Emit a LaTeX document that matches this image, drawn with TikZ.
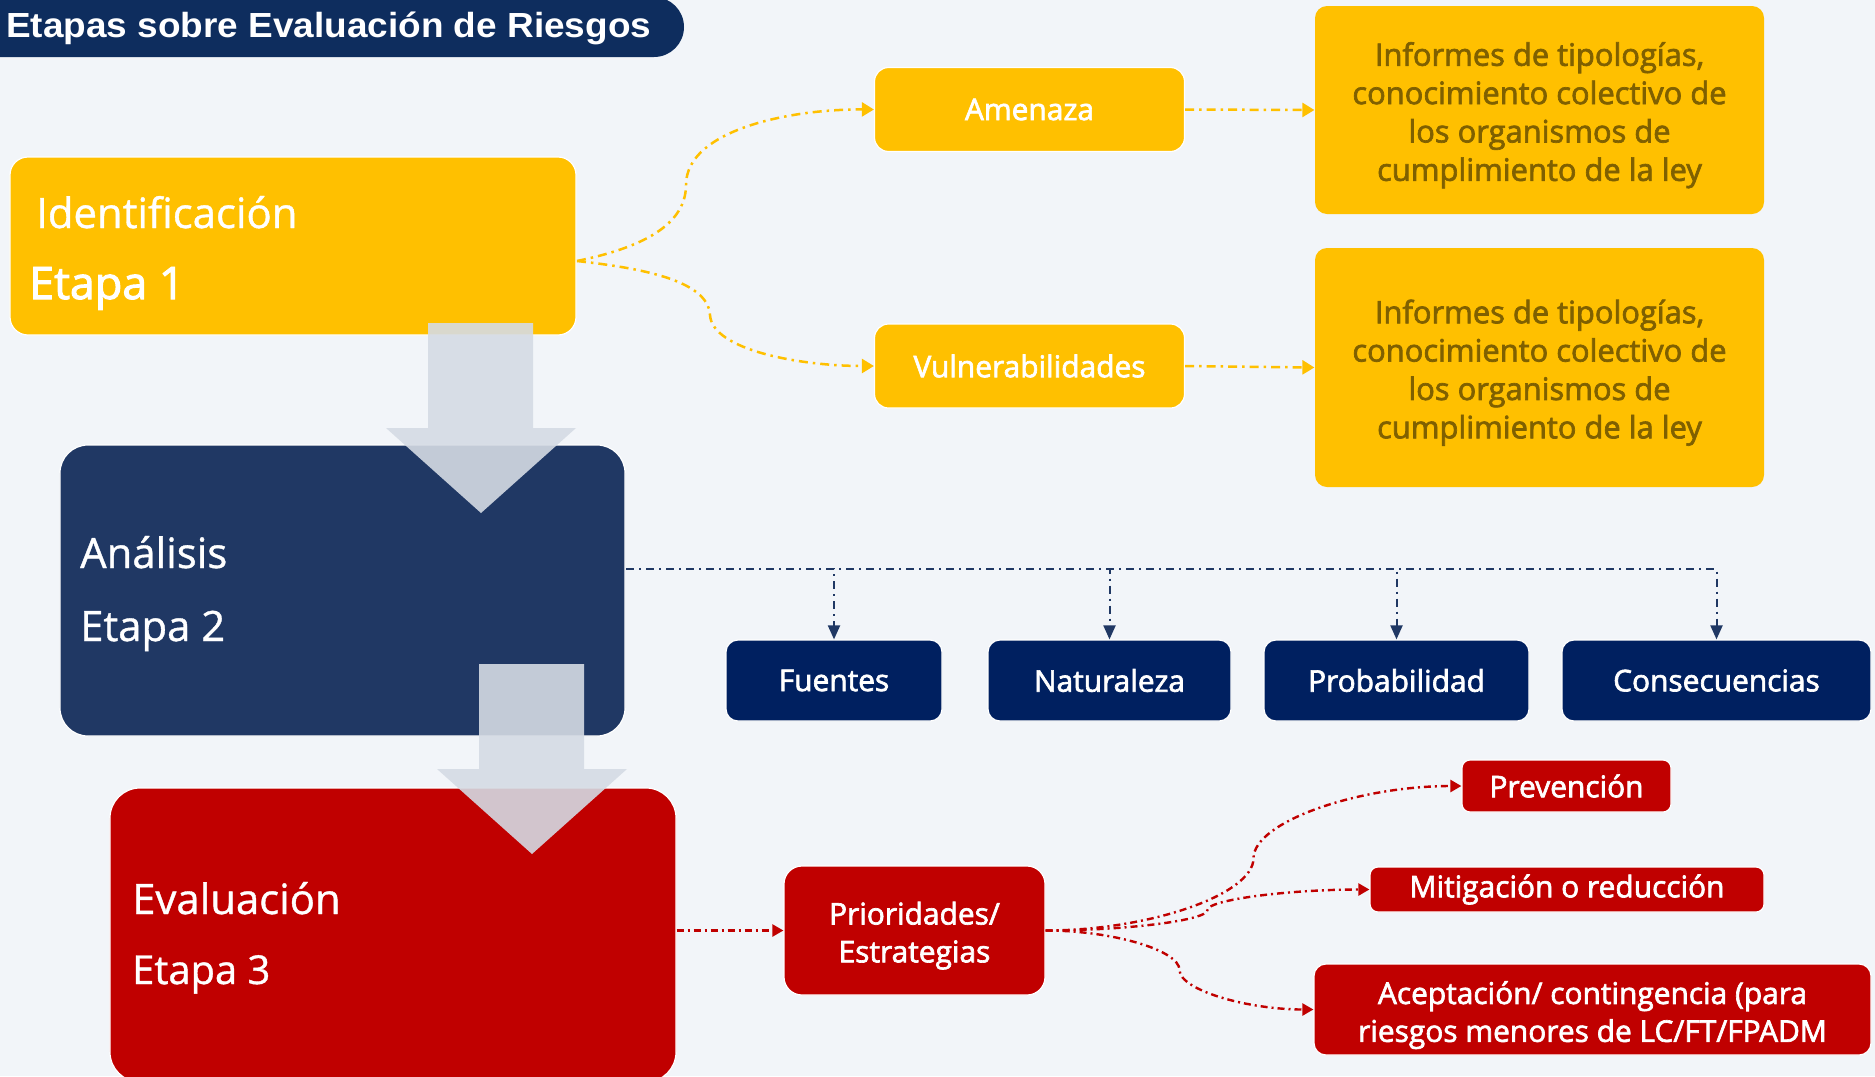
\documentclass[tikz,border=0pt]{standalone}
\usepackage{fontspec}
\setmainfont{Open Sans}
\newfontfamily\titlefont{Liberation Sans}[FakeStretch=1.06]
\newfontfamily\semib{Open Sans}[FakeBold=2.2]
\newfontfamily\medf{Open Sans}[FakeBold=0.9]
\usetikzlibrary{arrows.meta,calc}
\definecolor{bgc}{HTML}{F2F5F9}
\definecolor{yel}{HTML}{FFC000}
\definecolor{olive}{HTML}{7F6000}
\definecolor{anav}{HTML}{203864}
\definecolor{dnav}{HTML}{002060}
\definecolor{tnav}{HTML}{0E2D5E}
\definecolor{rred}{HTML}{C00000}
\definecolor{arrc}{HTML}{D5DBE4}
\tikzset{
  basebox/.style={draw=white, line width=1.2bp, inner sep=0pt, text=white, align=center},
  lab/.style={font=\semib\fontsize{30}{38}\selectfont},
  stagetxt/.style={text=white, inner sep=0pt, anchor=base west, font=\medf\fontsize{42}{50}\selectfont},
  ylink/.style={yel, line width=2.5bp, dash pattern=on 9bp off 5bp on 2.5bp off 5bp, -{Triangle[length=12bp,width=14bp]}},
  nlink/.style={anav, line width=2bp, dash pattern=on 8bp off 5bp on 2bp off 5bp, -{Triangle[length=14bp,width=12bp]}},
  rlink/.style={rred, line width=2.4bp, dash pattern=on 7bp off 4bp on 2bp off 4bp, -{Triangle[length=11bp,width=12bp]}},
  pcurve/.style={to path={let \p1=(\tikztostart), \p2=(\tikztotarget) in
     .. controls ({(3*\x1+\x2)/4},\y1) and ({(\x1+\x2)/2},{(3*\y1+\y2)/4}) .. ({(\x1+\x2)/2},{(\y1+\y2)/2})
     .. controls ({(\x1+\x2)/2},{(\y1+3*\y2)/4}) and ({(\x1+3*\x2)/4},\y2) .. (\tikztotarget)}},
  bigarrow/.style={fill=arrc, fill opacity=0.9}
}
\newcommand{\dn}[1]{\rule{0pt}{#1}}
\begin{document}
\begin{tikzpicture}[x=1bp,y=-1bp]
\useasboundingbox (0,0) rectangle (1875,1076);
\clip (0,0) rectangle (1875,1076);
\fill[bgc] (0,0) rectangle (1875,1076);

% title bar
\fill[tnav, rounded corners=30bp] (-40,-3) rectangle (684,57);
\node[text=white, inner sep=0pt, anchor=base west, font=\titlefont\bfseries\fontsize{35}{40}\selectfont] (title) at (6,37) {Etapas sobre Evaluación de Riesgos};

% stage boxes
\node[basebox, fill=yel, rounded corners=18bp, minimum width=566bp, minimum height=178bp] (Id) at (293,246) {};
\node[basebox, fill=anav, rounded corners=28bp, minimum width=565bp, minimum height=291bp] (Ana) at (342.5,590.5) {};
\node[basebox, fill=rred, rounded corners=30bp, minimum width=566bp, minimum height=294bp] (Eval) at (393,935) {};

\node[stagetxt] (IdT) at (36,228) {Identificación};
\node[stagetxt, font=\semib\fontsize{45}{50}\selectfont] (IdE) at (29,299) {Etapa 1};
\node[stagetxt] (AnT) at (80,568) {Análisis};
\node[stagetxt] (AnE) at (80,641) {Etapa 2};
\node[stagetxt] (EvT) at (132,914) {Evaluación};
\node[stagetxt, font=\medf\fontsize{40}{50}\selectfont] (EvE) at (132,984) {Etapa 3};

% big block arrows
\fill[bigarrow] (428,323) -- (533,323) -- (533,428) -- (576,428) -- (481,513) -- (386,428) -- (428,428) -- cycle;
\fill[bigarrow] (479,664) -- (584,664) -- (584,769) -- (627,769) -- (532,854) -- (437,769) -- (479,769) -- cycle;

% yellow branch
\node[basebox, lab, fill=yel, rounded corners=14bp, minimum width=310bp, minimum height=84bp] (Amen) at (1029.5,109.5) {Amenaza};
\node[basebox, lab, fill=yel, rounded corners=14bp, minimum width=310bp, minimum height=84bp] (Vuln) at (1029.5,366) {Vulnerabilidades};
\node[basebox, fill=yel, draw=none, text=olive, rounded corners=12bp, minimum width=449bp, minimum height=208bp,
      font=\semib\fontsize{31}{38.5}\selectfont] (Info1) at (1539.5,110) {\dn{34bp}Informes de tipologías,\\conocimiento colectivo de\\los organismos de\\cumplimiento de la ley};
\node[basebox, fill=yel, draw=none, text=olive, rounded corners=12bp, minimum width=449bp, minimum height=239bp,
      font=\semib\fontsize{31}{38.5}\selectfont] (Info2) at (1539.5,367.5) {\dn{34bp}Informes de tipologías,\\conocimiento colectivo de\\los organismos de\\cumplimiento de la ley};

\coordinate (idout) at (577,261);
\draw[ylink] (idout) .. controls (630,250) and (686,230) .. (686,185) .. controls (686,130) and (790,109) .. (Amen.west);
\draw[ylink] (idout) .. controls (640,268) and (708,280) .. (710,315) .. controls (712,350) and (800,366) .. (Vuln.west);
\draw[ylink] (Amen.east) -- (Info1.west);
\draw[ylink] (Vuln.east) -- (Info2.west);

% navy branch
\node[basebox, lab, fill=dnav, rounded corners=12bp, minimum width=216bp, minimum height=81bp] (Fue) at (834,680.5) {Fuentes};
\node[basebox, lab, fill=dnav, rounded corners=12bp, minimum width=243bp, minimum height=81bp] (Nat) at (1109.5,680.5) {Naturaleza};
\node[basebox, lab, fill=dnav, rounded corners=12bp, minimum width=265bp, minimum height=81bp] (Prob) at (1396.5,680.5) {Probabilidad};
\node[basebox, lab, fill=dnav, rounded corners=12bp, minimum width=309bp, minimum height=81bp] (Cons) at (1716.5,680.5) {Consecuencias};

\coordinate (aout) at (626,569);
\draw[nlink] (aout) -| (Fue.north);
\draw[nlink] (aout) -| (Nat.north);
\draw[nlink] (aout) -| (Prob.north);
\draw[nlink] (aout) -| (Cons.north);

% red branch
\node[basebox, lab, fill=rred, rounded corners=18bp, minimum width=261bp, minimum height=129bp] (Prio) at (914.5,930.5) {\dn{33bp}Prioridades/\\Estrategias};
\node[basebox, lab, fill=rred, rounded corners=8bp, minimum width=209bp, minimum height=52bp] (Prev) at (1566.5,786) {Prevención};
\node[basebox, lab, fill=rred, rounded corners=8bp, minimum width=394bp, minimum height=45bp] (Mit) at (1567,889.5) {Mitigación o reducción};
\node[basebox, lab, fill=rred, rounded corners=12bp, minimum width=557bp, minimum height=91bp] (Acep) at (1592.5,1009.5) {\dn{34bp}Aceptación/ contingencia (para\\riesgos menores de LC/FT/FPADM};

\draw[rlink] (Eval.east |- Prio.west) -- (Prio.west);
\draw[rlink] (Prio.east) to[pcurve] (Prev.west);
\draw[rlink] (Prio.east) to[pcurve] (Mit.west);
\draw[rlink] (Prio.east) to[pcurve] (Acep.west);
\end{tikzpicture}
\end{document}
